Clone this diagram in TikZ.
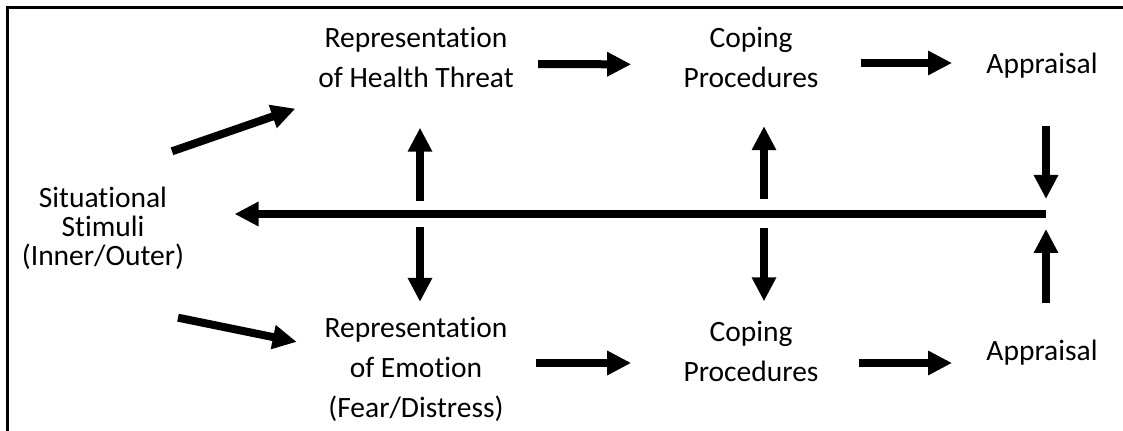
\documentclass[tikz,border=0pt]{standalone}
\usepackage{fontspec}
\setmainfont{Carlito}[Ligatures=NoCommon]
\usetikzlibrary{arrows.meta}

\tikzset{
  lbl/.style={align=center, inner sep=0pt, font=\fontsize{14.75}{20}\selectfont},
  arr/.style={line width=4pt, -{Triangle[length=12pt,width=11.5pt]}},
}

\begin{document}
\begin{tikzpicture}[x=0.5pt, y=-0.5pt]
    \useasboundingbox (0,0) rectangle (1123,431);
    \draw[line width=1.5pt] (1123,8) -- (7,8) -- (7,431);

    \node[lbl, font=\fontsize{14.75}{14.5}\selectfont] (stim) at (103,228) {Situational\\Stimuli\\(Inner/Outer)};
    \node[lbl] (threat) at (416,57) {Representation\\of Health Threat};
    \node[lbl] (cope1) at (751,57.5) {Coping\\Procedures};
    \node[lbl] (appr1) at (1042,65.5) {Appraisal};
    \node[lbl] (emot) at (416,369.5) {Representation\\of Emotion\\(Fear/Distress)};
    \node[lbl] (cope2) at (751,351) {Coping\\Procedures};
    \node[lbl] (appr2) at (1042,353) {Appraisal};

    \coordinate (j1) at (420,214);
    \coordinate (j2) at (764,214);
    \coordinate (hub) at (1046,214);

    % from the stimuli
    \draw[arr] ([xshift=34.5pt,yshift=17.5pt]stim.north) -- ([xshift=-11.25pt,yshift=-10.5pt]threat.south west);
    \draw[arr] ([xshift=37.5pt,yshift=-24pt]stim.south) -- ([xshift=-13.75pt,yshift=-12.5pt]emot.north west);

    % the two rows
    \draw[arr, shorten <=12pt, shorten >=26pt] ([yshift=-3.5pt]threat.east) -- ([yshift=-3.5pt]cope1.west);
    \draw[arr, shorten <=21pt, shorten >=17pt] ([yshift=-2.75pt]cope1.east) -- ([yshift=1.25pt]appr1.west);
    \draw[arr, shorten <=14pt, shorten >=26pt] ([yshift=3.25pt]emot.east) -- ([yshift=-6pt]cope2.west);
    \draw[arr, shorten <=20pt, shorten >=17pt] ([yshift=-6pt]cope2.east) -- ([yshift=-5pt]appr2.west);

    % feedback line
    \draw[arr, shorten >=25pt] (hub) -- (hub -| stim.east);
    \draw[arr, shorten <=6.5pt, shorten >=20pt] (j1) -- (j1 |- threat.south);
    \draw[arr, shorten <=6.5pt, shorten >=7.5pt] (j1) -- (j1 |- emot.north);
    \draw[arr, shorten <=7.5pt, shorten >=19pt] (j2) -- (j2 |- cope1.south);
    \draw[arr, shorten <=7pt, shorten >=9.5pt] (j2) -- (j2 |- cope2.north);
    \draw[arr, shorten <=23.5pt, shorten >=7.5pt] (hub |- appr1.south) -- (hub);
    \draw[arr, shorten <=18.5pt, shorten >=7.5pt] (hub |- appr2.north) -- (hub);
\end{tikzpicture}
\end{document}
